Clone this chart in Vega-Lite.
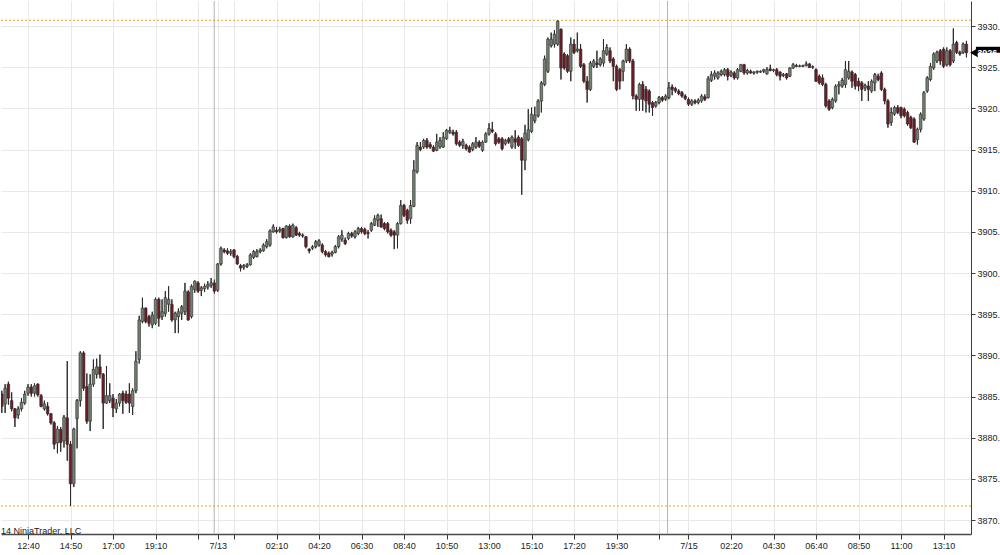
{
  "$schema": "https://vega.github.io/schema/vega-lite/v6.json",
  "width": 970,
  "height": 533,
  "padding": 0,
  "autosize": {"type": "pad"},
  "background": "#ffffff",
  "config": {"view": {"stroke": null}, "font": "Liberation Sans"},
  "resolve": {"axis": {"x": "independent", "y": "independent"}},
  "datasets": {
    "bars": [
{"i":0,"o":3885.3,"h":3885.7,"l":3883.0,"c":3883.8},
{"i":1,"o":3884.1,"h":3886.5,"l":3883.0,"c":3886.0},
{"i":2,"o":3886.5,"h":3886.8,"l":3884.0,"c":3884.8},
{"i":3,"o":3884.5,"h":3885.5,"l":3883.2,"c":3883.5},
{"i":4,"o":3883.5,"h":3883.6,"l":3881.3,"c":3882.4},
{"i":5,"o":3882.75,"h":3883.8,"l":3882.3,"c":3883.5},
{"i":6,"o":3883.5,"h":3884.8,"l":3883.2,"c":3884.3},
{"i":7,"o":3884.2,"h":3885.7,"l":3884.0,"c":3885.3},
{"i":8,"o":3885.4,"h":3886.5,"l":3885.1,"c":3886.15},
{"i":9,"o":3886.15,"h":3886.5,"l":3885.0,"c":3885.4},
{"i":10,"o":3885.4,"h":3886.6,"l":3885.0,"c":3886.3},
{"i":11,"o":3886.5,"h":3886.6,"l":3885.0,"c":3885.2},
{"i":12,"o":3885.1,"h":3885.3,"l":3883.7,"c":3883.8},
{"i":13,"o":3883.5,"h":3884.5,"l":3883.3,"c":3884.1},
{"i":14,"o":3883.8,"h":3884.3,"l":3882.7,"c":3882.9},
{"i":15,"o":3882.9,"h":3883.0,"l":3881.6,"c":3881.8},
{"i":16,"o":3881.8,"h":3882.0,"l":3878.6,"c":3879.2},
{"i":17,"o":3879.35,"h":3881.4,"l":3878.1,"c":3881.05},
{"i":18,"o":3881.0,"h":3881.3,"l":3878.3,"c":3879.4},
{"i":19,"o":3879.6,"h":3882.75,"l":3878.8,"c":3882.5},
{"i":20,"o":3882.4,"h":3889.3,"l":3877.2,"c":3879.2},
{"i":21,"o":3879.2,"h":3879.6,"l":3871.7,"c":3874.4},
{"i":22,"o":3874.4,"h":3881.2,"l":3874.0,"c":3881.05},
{"i":23,"o":3882.3,"h":3884.7,"l":3878.7,"c":3884.5},
{"i":24,"o":3884.5,"h":3890.5,"l":3883.8,"c":3890.3},
{"i":25,"o":3890.3,"h":3890.5,"l":3885.7,"c":3886.0},
{"i":26,"o":3886.2,"h":3887.8,"l":3881.7,"c":3882.0},
{"i":27,"o":3882.0,"h":3887.7,"l":3880.8,"c":3886.5},
{"i":28,"o":3886.5,"h":3889.5,"l":3886.2,"c":3888.3},
{"i":29,"o":3887.7,"h":3889.6,"l":3887.2,"c":3888.6},
{"i":30,"o":3888.6,"h":3890.1,"l":3887.2,"c":3887.7},
{"i":31,"o":3887.7,"h":3887.85,"l":3881.05,"c":3884.2},
{"i":32,"o":3884.2,"h":3888.7,"l":3884.1,"c":3885.1},
{"i":33,"o":3884.5,"h":3886.6,"l":3884.2,"c":3885.1},
{"i":34,"o":3884.8,"h":3885.3,"l":3882.5,"c":3883.6},
{"i":35,"o":3883.5,"h":3884.7,"l":3883.0,"c":3884.2},
{"i":36,"o":3884.2,"h":3885.4,"l":3883.8,"c":3885.3},
{"i":37,"o":3885.4,"h":3885.7,"l":3882.9,"c":3884.5},
{"i":38,"o":3885.3,"h":3885.7,"l":3884.1,"c":3884.3},
{"i":39,"o":3885.3,"h":3886.6,"l":3883.0,"c":3884.2},
{"i":40,"o":3883.8,"h":3886.0,"l":3882.75,"c":3885.7},
{"i":41,"o":3885.7,"h":3890.5,"l":3885.4,"c":3889.3},
{"i":42,"o":3889.5,"h":3894.8,"l":3889.0,"c":3894.3},
{"i":43,"o":3894.1,"h":3897.0,"l":3893.9,"c":3895.75},
{"i":44,"o":3895.75,"h":3895.8,"l":3893.9,"c":3894.1},
{"i":45,"o":3894.7,"h":3894.9,"l":3893.5,"c":3893.9},
{"i":46,"o":3893.7,"h":3895.3,"l":3893.3,"c":3894.9},
{"i":47,"o":3893.9,"h":3897.0,"l":3893.7,"c":3896.8},
{"i":48,"o":3896.8,"h":3897.0,"l":3893.5,"c":3894.5},
{"i":49,"o":3894.7,"h":3896.8,"l":3894.3,"c":3895.3},
{"i":50,"o":3895.1,"h":3897.8,"l":3894.7,"c":3897.0},
{"i":51,"o":3896.2,"h":3898.4,"l":3895.3,"c":3896.8},
{"i":52,"o":3896.2,"h":3896.8,"l":3894.1,"c":3894.3},
{"i":53,"o":3894.3,"h":3895.3,"l":3892.7,"c":3895.1},
{"i":54,"o":3894.7,"h":3895.7,"l":3892.7,"c":3895.3},
{"i":55,"o":3895.1,"h":3896.1,"l":3894.3,"c":3895.9},
{"i":56,"o":3895.3,"h":3898.8,"l":3894.9,"c":3897.8},
{"i":57,"o":3897.7,"h":3897.9,"l":3894.2,"c":3894.3},
{"i":58,"o":3894.7,"h":3898.6,"l":3894.5,"c":3898.4},
{"i":59,"o":3898.0,"h":3899.1,"l":3897.6,"c":3899.0},
{"i":60,"o":3898.8,"h":3899.0,"l":3897.6,"c":3897.8},
{"i":61,"o":3897.9,"h":3898.4,"l":3897.2,"c":3898.2},
{"i":62,"o":3898.1,"h":3898.7,"l":3897.7,"c":3898.4},
{"i":63,"o":3898.3,"h":3899.0,"l":3898.0,"c":3898.6},
{"i":64,"o":3898.5,"h":3899.4,"l":3898.2,"c":3898.8},
{"i":65,"o":3898.8,"h":3899.2,"l":3897.5,"c":3897.8},
{"i":66,"o":3897.9,"h":3901.2,"l":3897.7,"c":3901.1},
{"i":67,"o":3901.1,"h":3903.2,"l":3900.9,"c":3903.0},
{"i":68,"o":3902.8,"h":3903.0,"l":3902.4,"c":3902.6},
{"i":69,"o":3902.7,"h":3903.0,"l":3902.2,"c":3902.4},
{"i":70,"o":3902.4,"h":3902.9,"l":3902.1,"c":3902.6},
{"i":71,"o":3902.8,"h":3902.9,"l":3901.8,"c":3902.0},
{"i":72,"o":3902.0,"h":3902.2,"l":3901.0,"c":3901.1},
{"i":73,"o":3900.9,"h":3901.1,"l":3900.2,"c":3900.6},
{"i":74,"o":3900.7,"h":3901.1,"l":3900.4,"c":3900.9},
{"i":75,"o":3900.8,"h":3901.2,"l":3900.6,"c":3901.0},
{"i":76,"o":3901.0,"h":3902.4,"l":3900.9,"c":3902.2},
{"i":77,"o":3901.9,"h":3902.8,"l":3901.7,"c":3902.6},
{"i":78,"o":3902.0,"h":3902.9,"l":3901.9,"c":3902.6},
{"i":79,"o":3902.6,"h":3903.0,"l":3902.4,"c":3902.8},
{"i":80,"o":3902.7,"h":3903.6,"l":3902.6,"c":3903.4},
{"i":81,"o":3903.2,"h":3904.1,"l":3903.0,"c":3903.8},
{"i":82,"o":3903.4,"h":3905.3,"l":3903.2,"c":3905.1},
{"i":83,"o":3905.0,"h":3905.9,"l":3904.9,"c":3905.6},
{"i":84,"o":3905.2,"h":3905.6,"l":3904.8,"c":3905.0},
{"i":85,"o":3905.1,"h":3905.6,"l":3904.9,"c":3905.3},
{"i":86,"o":3905.4,"h":3905.5,"l":3904.2,"c":3904.3},
{"i":87,"o":3904.3,"h":3905.8,"l":3904.2,"c":3905.7},
{"i":88,"o":3905.7,"h":3905.9,"l":3904.3,"c":3904.4},
{"i":89,"o":3904.4,"h":3906.0,"l":3904.3,"c":3905.8},
{"i":90,"o":3905.5,"h":3905.7,"l":3904.5,"c":3904.6},
{"i":91,"o":3904.8,"h":3905.0,"l":3904.4,"c":3904.6},
{"i":92,"o":3904.6,"h":3904.8,"l":3904.3,"c":3904.5},
{"i":93,"o":3904.4,"h":3904.5,"l":3903.0,"c":3903.2},
{"i":94,"o":3902.9,"h":3903.0,"l":3902.4,"c":3902.7},
{"i":95,"o":3903.0,"h":3903.4,"l":3902.8,"c":3903.2},
{"i":96,"o":3903.2,"h":3904.0,"l":3903.0,"c":3903.8},
{"i":97,"o":3903.4,"h":3904.1,"l":3903.2,"c":3903.9},
{"i":98,"o":3903.4,"h":3903.6,"l":3902.4,"c":3902.6},
{"i":99,"o":3902.6,"h":3902.8,"l":3902.0,"c":3902.2},
{"i":100,"o":3902.4,"h":3902.6,"l":3901.9,"c":3902.0},
{"i":101,"o":3902.3,"h":3902.7,"l":3902.0,"c":3902.5},
{"i":102,"o":3902.5,"h":3903.4,"l":3902.4,"c":3903.2},
{"i":103,"o":3903.2,"h":3904.6,"l":3903.0,"c":3904.4},
{"i":104,"o":3904.1,"h":3905.2,"l":3903.8,"c":3904.6},
{"i":105,"o":3904.0,"h":3904.3,"l":3903.4,"c":3903.6},
{"i":106,"o":3904.2,"h":3905.0,"l":3904.0,"c":3904.8},
{"i":107,"o":3904.8,"h":3905.0,"l":3904.3,"c":3904.5},
{"i":108,"o":3904.4,"h":3905.2,"l":3904.2,"c":3905.0},
{"i":109,"o":3904.8,"h":3905.6,"l":3904.6,"c":3905.4},
{"i":110,"o":3905.4,"h":3905.6,"l":3904.8,"c":3905.0},
{"i":111,"o":3905.3,"h":3905.5,"l":3904.6,"c":3904.8},
{"i":112,"o":3904.9,"h":3905.2,"l":3904.2,"c":3904.8},
{"i":113,"o":3905.2,"h":3906.2,"l":3905.0,"c":3906.0},
{"i":114,"o":3905.8,"h":3907.0,"l":3905.7,"c":3906.6},
{"i":115,"o":3906.4,"h":3907.2,"l":3905.6,"c":3907.0},
{"i":116,"o":3906.6,"h":3907.1,"l":3905.5,"c":3905.6},
{"i":117,"o":3906.0,"h":3906.2,"l":3905.2,"c":3905.4},
{"i":118,"o":3906.0,"h":3906.2,"l":3904.8,"c":3905.0},
{"i":119,"o":3905.2,"h":3905.4,"l":3904.4,"c":3904.6},
{"i":120,"o":3905.0,"h":3905.2,"l":3902.9,"c":3904.6},
{"i":121,"o":3904.6,"h":3906.2,"l":3903.0,"c":3906.0},
{"i":122,"o":3906.0,"h":3908.85,"l":3905.9,"c":3908.2},
{"i":123,"o":3908.2,"h":3908.4,"l":3906.8,"c":3907.0},
{"i":124,"o":3907.6,"h":3907.8,"l":3906.0,"c":3906.4},
{"i":125,"o":3906.6,"h":3908.85,"l":3906.0,"c":3908.2},
{"i":126,"o":3908.1,"h":3913.7,"l":3908.0,"c":3912.5},
{"i":127,"o":3912.3,"h":3915.9,"l":3912.1,"c":3915.5},
{"i":128,"o":3915.3,"h":3915.9,"l":3914.8,"c":3915.0},
{"i":129,"o":3915.3,"h":3916.3,"l":3915.1,"c":3916.1},
{"i":130,"o":3916.1,"h":3916.4,"l":3915.1,"c":3915.3},
{"i":131,"o":3915.6,"h":3915.9,"l":3915.1,"c":3915.3},
{"i":132,"o":3915.3,"h":3915.5,"l":3914.7,"c":3914.8},
{"i":133,"o":3914.9,"h":3916.9,"l":3914.8,"c":3915.9},
{"i":134,"o":3915.3,"h":3916.5,"l":3915.1,"c":3916.1},
{"i":135,"o":3915.3,"h":3917.1,"l":3915.2,"c":3916.5},
{"i":136,"o":3916.3,"h":3917.5,"l":3916.2,"c":3917.35},
{"i":137,"o":3917.1,"h":3917.75,"l":3916.9,"c":3917.3},
{"i":138,"o":3917.1,"h":3917.4,"l":3916.7,"c":3916.9},
{"i":139,"o":3917.1,"h":3917.35,"l":3915.5,"c":3915.7},
{"i":140,"o":3915.9,"h":3916.1,"l":3915.3,"c":3915.5},
{"i":141,"o":3915.5,"h":3916.3,"l":3915.1,"c":3916.0},
{"i":142,"o":3915.5,"h":3915.7,"l":3914.9,"c":3915.1},
{"i":143,"o":3915.3,"h":3915.5,"l":3914.6,"c":3914.7},
{"i":144,"o":3915.0,"h":3915.9,"l":3914.8,"c":3915.7},
{"i":145,"o":3915.3,"h":3916.5,"l":3915.1,"c":3915.9},
{"i":146,"o":3915.9,"h":3916.1,"l":3915.2,"c":3915.4},
{"i":147,"o":3914.9,"h":3916.1,"l":3914.7,"c":3915.9},
{"i":148,"o":3915.9,"h":3917.1,"l":3915.8,"c":3916.9},
{"i":149,"o":3916.9,"h":3918.2,"l":3916.7,"c":3917.55},
{"i":150,"o":3917.4,"h":3918.35,"l":3917.0,"c":3917.2},
{"i":151,"o":3916.9,"h":3917.1,"l":3915.5,"c":3915.7},
{"i":152,"o":3916.3,"h":3916.5,"l":3915.7,"c":3915.9},
{"i":153,"o":3916.3,"h":3916.5,"l":3914.9,"c":3915.1},
{"i":154,"o":3915.7,"h":3916.3,"l":3915.5,"c":3916.1},
{"i":155,"o":3916.3,"h":3916.5,"l":3915.7,"c":3915.9},
{"i":156,"o":3915.3,"h":3916.7,"l":3915.1,"c":3916.5},
{"i":157,"o":3916.3,"h":3917.35,"l":3915.1,"c":3915.9},
{"i":158,"o":3916.5,"h":3916.7,"l":3915.3,"c":3915.5},
{"i":159,"o":3916.3,"h":3916.5,"l":3909.5,"c":3913.7},
{"i":160,"o":3913.7,"h":3918.0,"l":3912.5,"c":3917.0},
{"i":161,"o":3916.2,"h":3919.9,"l":3916.0,"c":3917.4},
{"i":162,"o":3917.2,"h":3920.1,"l":3917.0,"c":3919.3},
{"i":163,"o":3918.5,"h":3920.2,"l":3918.2,"c":3919.2},
{"i":164,"o":3919.1,"h":3921.1,"l":3918.9,"c":3920.9},
{"i":165,"o":3920.9,"h":3923.3,"l":3919.5,"c":3923.1},
{"i":166,"o":3922.9,"h":3926.4,"l":3922.7,"c":3926.0},
{"i":167,"o":3924.5,"h":3928.6,"l":3924.3,"c":3928.4},
{"i":168,"o":3927.6,"h":3929.2,"l":3927.4,"c":3928.4},
{"i":169,"o":3927.8,"h":3929.5,"l":3927.4,"c":3929.0},
{"i":170,"o":3927.8,"h":3930.7,"l":3927.6,"c":3930.6},
{"i":171,"o":3929.6,"h":3929.7,"l":3923.5,"c":3924.9},
{"i":172,"o":3926.6,"h":3926.8,"l":3924.7,"c":3924.9},
{"i":173,"o":3926.4,"h":3926.6,"l":3924.3,"c":3924.5},
{"i":174,"o":3924.5,"h":3928.6,"l":3923.3,"c":3927.8},
{"i":175,"o":3927.8,"h":3928.4,"l":3926.6,"c":3926.8},
{"i":176,"o":3927.0,"h":3929.2,"l":3926.8,"c":3927.2},
{"i":177,"o":3927.2,"h":3927.8,"l":3924.9,"c":3925.1},
{"i":178,"o":3925.3,"h":3925.5,"l":3923.1,"c":3923.3},
{"i":179,"o":3923.3,"h":3923.9,"l":3920.7,"c":3922.3},
{"i":180,"o":3922.3,"h":3925.75,"l":3922.1,"c":3925.5},
{"i":181,"o":3925.1,"h":3926.0,"l":3924.9,"c":3925.75},
{"i":182,"o":3925.5,"h":3927.0,"l":3924.9,"c":3925.3},
{"i":183,"o":3925.3,"h":3926.2,"l":3925.1,"c":3926.0},
{"i":184,"o":3925.5,"h":3928.4,"l":3925.1,"c":3927.0},
{"i":185,"o":3926.6,"h":3927.8,"l":3926.4,"c":3927.4},
{"i":186,"o":3927.0,"h":3927.4,"l":3925.5,"c":3925.75},
{"i":187,"o":3926.0,"h":3926.2,"l":3923.3,"c":3925.1},
{"i":188,"o":3925.1,"h":3925.3,"l":3922.1,"c":3922.3},
{"i":189,"o":3924.7,"h":3924.9,"l":3922.3,"c":3923.3},
{"i":190,"o":3924.5,"h":3925.9,"l":3923.3,"c":3925.75},
{"i":191,"o":3925.75,"h":3927.8,"l":3925.5,"c":3927.2},
{"i":192,"o":3927.2,"h":3927.4,"l":3925.5,"c":3925.75},
{"i":193,"o":3925.75,"h":3926.0,"l":3921.1,"c":3921.5},
{"i":194,"o":3921.5,"h":3921.7,"l":3919.7,"c":3921.1},
{"i":195,"o":3921.1,"h":3923.1,"l":3919.7,"c":3922.9},
{"i":196,"o":3922.9,"h":3923.3,"l":3919.7,"c":3921.1},
{"i":197,"o":3922.3,"h":3922.7,"l":3919.5,"c":3920.9},
{"i":198,"o":3922.1,"h":3922.3,"l":3919.5,"c":3920.5},
{"i":199,"o":3920.7,"h":3920.9,"l":3919.1,"c":3920.1},
{"i":200,"o":3920.3,"h":3920.9,"l":3920.1,"c":3920.7},
{"i":201,"o":3920.7,"h":3921.5,"l":3920.5,"c":3921.3},
{"i":202,"o":3921.3,"h":3921.5,"l":3920.8,"c":3921.0},
{"i":203,"o":3921.1,"h":3921.7,"l":3920.9,"c":3921.5},
{"i":204,"o":3921.3,"h":3923.2,"l":3921.1,"c":3922.5},
{"i":205,"o":3922.6,"h":3922.9,"l":3921.6,"c":3922.3},
{"i":206,"o":3922.4,"h":3922.6,"l":3921.9,"c":3922.1},
{"i":207,"o":3922.1,"h":3922.3,"l":3921.6,"c":3921.8},
{"i":208,"o":3921.9,"h":3922.1,"l":3921.3,"c":3921.5},
{"i":209,"o":3921.5,"h":3921.7,"l":3921.0,"c":3921.2},
{"i":210,"o":3921.1,"h":3921.3,"l":3920.3,"c":3920.5},
{"i":211,"o":3920.5,"h":3921.1,"l":3920.3,"c":3920.9},
{"i":212,"o":3920.9,"h":3921.1,"l":3920.5,"c":3920.7},
{"i":213,"o":3920.7,"h":3921.2,"l":3920.5,"c":3921.0},
{"i":214,"o":3920.9,"h":3921.7,"l":3920.7,"c":3921.5},
{"i":215,"o":3921.4,"h":3921.7,"l":3920.9,"c":3921.1},
{"i":216,"o":3921.3,"h":3923.9,"l":3921.2,"c":3923.6},
{"i":217,"o":3923.4,"h":3924.5,"l":3923.2,"c":3924.1},
{"i":218,"o":3923.9,"h":3924.6,"l":3923.5,"c":3924.3},
{"i":219,"o":3923.7,"h":3924.5,"l":3923.5,"c":3924.3},
{"i":220,"o":3924.1,"h":3924.7,"l":3923.9,"c":3924.5},
{"i":221,"o":3924.1,"h":3924.9,"l":3923.9,"c":3924.7},
{"i":222,"o":3924.7,"h":3924.9,"l":3923.4,"c":3923.9},
{"i":223,"o":3924.0,"h":3924.6,"l":3923.8,"c":3924.4},
{"i":224,"o":3924.3,"h":3924.5,"l":3923.5,"c":3923.7},
{"i":225,"o":3923.7,"h":3924.9,"l":3923.5,"c":3924.7},
{"i":226,"o":3924.5,"h":3925.4,"l":3924.4,"c":3925.3},
{"i":227,"o":3925.3,"h":3925.4,"l":3924.1,"c":3924.3},
{"i":228,"o":3924.3,"h":3924.8,"l":3924.1,"c":3924.6},
{"i":229,"o":3924.5,"h":3924.7,"l":3924.2,"c":3924.3},
{"i":230,"o":3924.3,"h":3924.5,"l":3924.1,"c":3924.4},
{"i":231,"o":3924.4,"h":3924.6,"l":3924.2,"c":3924.5},
{"i":232,"o":3924.4,"h":3924.6,"l":3924.3,"c":3924.5},
{"i":233,"o":3924.5,"h":3924.8,"l":3924.3,"c":3924.7},
{"i":234,"o":3924.2,"h":3925.0,"l":3924.1,"c":3924.7},
{"i":235,"o":3924.8,"h":3925.3,"l":3924.5,"c":3924.6},
{"i":236,"o":3924.6,"h":3924.8,"l":3924.4,"c":3924.7},
{"i":237,"o":3924.7,"h":3924.9,"l":3923.9,"c":3924.1},
{"i":238,"o":3924.4,"h":3924.5,"l":3923.4,"c":3923.9},
{"i":239,"o":3924.0,"h":3924.3,"l":3923.8,"c":3924.1},
{"i":240,"o":3924.2,"h":3924.3,"l":3923.5,"c":3923.7},
{"i":241,"o":3923.9,"h":3925.0,"l":3923.8,"c":3924.9},
{"i":242,"o":3924.9,"h":3925.5,"l":3924.8,"c":3925.3},
{"i":243,"o":3925.2,"h":3925.4,"l":3925.0,"c":3925.1},
{"i":244,"o":3925.1,"h":3925.3,"l":3925.0,"c":3925.15},
{"i":245,"o":3925.1,"h":3925.3,"l":3925.0,"c":3925.2},
{"i":246,"o":3925.2,"h":3925.7,"l":3925.1,"c":3925.4},
{"i":247,"o":3925.4,"h":3925.5,"l":3924.9,"c":3924.95},
{"i":248,"o":3925.0,"h":3925.2,"l":3924.8,"c":3925.05},
{"i":249,"o":3924.7,"h":3924.85,"l":3923.2,"c":3923.3},
{"i":250,"o":3923.9,"h":3924.1,"l":3922.9,"c":3923.1},
{"i":251,"o":3923.7,"h":3924.1,"l":3922.7,"c":3922.9},
{"i":252,"o":3922.9,"h":3923.1,"l":3920.1,"c":3920.3},
{"i":253,"o":3920.9,"h":3921.1,"l":3919.7,"c":3919.9},
{"i":254,"o":3920.1,"h":3921.3,"l":3919.9,"c":3921.1},
{"i":255,"o":3920.9,"h":3922.9,"l":3920.7,"c":3922.7},
{"i":256,"o":3922.7,"h":3923.3,"l":3921.7,"c":3922.9},
{"i":257,"o":3922.7,"h":3923.7,"l":3922.5,"c":3923.4},
{"i":258,"o":3922.9,"h":3925.75,"l":3922.5,"c":3924.7},
{"i":259,"o":3923.7,"h":3925.75,"l":3923.5,"c":3924.5},
{"i":260,"o":3924.4,"h":3924.6,"l":3922.5,"c":3923.3},
{"i":261,"o":3924.1,"h":3924.3,"l":3922.3,"c":3922.7},
{"i":262,"o":3923.3,"h":3923.7,"l":3922.1,"c":3922.7},
{"i":263,"o":3923.1,"h":3923.3,"l":3920.9,"c":3922.3},
{"i":264,"o":3922.5,"h":3923.0,"l":3922.1,"c":3922.8},
{"i":265,"o":3922.7,"h":3923.3,"l":3920.9,"c":3922.3},
{"i":266,"o":3922.1,"h":3923.5,"l":3921.9,"c":3923.3},
{"i":267,"o":3923.1,"h":3924.3,"l":3922.1,"c":3924.1},
{"i":268,"o":3923.9,"h":3924.2,"l":3923.3,"c":3923.5},
{"i":269,"o":3924.3,"h":3924.5,"l":3922.1,"c":3922.3},
{"i":270,"o":3922.3,"h":3922.5,"l":3920.5,"c":3920.9},
{"i":271,"o":3920.9,"h":3921.1,"l":3917.65,"c":3918.1},
{"i":272,"o":3918.3,"h":3920.1,"l":3917.9,"c":3919.5},
{"i":273,"o":3919.3,"h":3920.3,"l":3919.1,"c":3920.1},
{"i":274,"o":3920.1,"h":3920.4,"l":3919.3,"c":3919.5},
{"i":275,"o":3920.1,"h":3920.2,"l":3918.8,"c":3919.1},
{"i":276,"o":3919.9,"h":3920.1,"l":3918.9,"c":3919.1},
{"i":277,"o":3919.5,"h":3919.7,"l":3917.9,"c":3918.1},
{"i":278,"o":3918.9,"h":3919.1,"l":3917.5,"c":3917.65},
{"i":279,"o":3918.7,"h":3918.9,"l":3915.8,"c":3915.9},
{"i":280,"o":3916.2,"h":3917.65,"l":3915.6,"c":3917.45},
{"i":281,"o":3917.45,"h":3919.5,"l":3917.1,"c":3919.3},
{"i":282,"o":3918.7,"h":3922.1,"l":3918.5,"c":3921.9},
{"i":283,"o":3922.1,"h":3923.9,"l":3921.9,"c":3923.7},
{"i":284,"o":3923.5,"h":3925.5,"l":3923.3,"c":3925.1},
{"i":285,"o":3924.9,"h":3926.8,"l":3924.7,"c":3926.6},
{"i":286,"o":3925.75,"h":3927.0,"l":3925.5,"c":3926.8},
{"i":287,"o":3927.0,"h":3927.2,"l":3925.3,"c":3925.75},
{"i":288,"o":3927.2,"h":3927.4,"l":3924.9,"c":3925.1},
{"i":289,"o":3925.3,"h":3927.4,"l":3925.1,"c":3927.0},
{"i":290,"o":3927.0,"h":3927.2,"l":3925.1,"c":3925.3},
{"i":291,"o":3925.75,"h":3929.7,"l":3925.5,"c":3927.8},
{"i":292,"o":3928.0,"h":3928.2,"l":3926.6,"c":3926.8},
{"i":293,"o":3926.8,"h":3927.0,"l":3926.4,"c":3926.6},
{"i":294,"o":3926.8,"h":3928.0,"l":3926.6,"c":3927.8},
{"i":295,"o":3927.8,"h":3928.2,"l":3926.2,"c":3926.75}
    ],
    "sessions": [{"i": 64.95}, {"i": 203.6}],
    "levels": [{"p": 3930.7}, {"p": 3871.7}],
    "credit": [{"i": -5.35, "p": 3868.72, "t": "©2014 NinjaTrader, LLC"}],
    "last": [{"p": 3926.75, "t": "3926.75"}]
  },
  "layer": [
    {
      "data": {"name": "bars"},
      "mark": {"type": "rule", "color": "#2a2a2a", "strokeWidth": 1, "clip": true},
      "encoding": {
        "x": {
          "field": "i", "type": "quantitative",
          "scale": {"domain": [-0.26, 296.4], "nice": false, "zero": false, "padding": 0},
          "axis": {
            "orient": "bottom", "title": null,
            "values": [8,21,34,47,60,66,71,84,97,110,123,136,149,162,175,188,201,210,223,236,249,262,275,288],
            "labelExpr": "['12:40','14:50','17:00','19:10','','7/13','','02:10','04:20','06:30','08:40','10:50','13:00','15:10','17:20','19:30','','7/15','02:20','04:30','06:40','08:50','11:00','13:10'][indexof([8,21,34,47,60,66,71,84,97,110,123,136,149,162,175,188,201,210,223,236,249,262,275,288], datum.value)]",
            "grid": true, "gridColor": "#e8e8e8", "gridWidth": 1,
            "domainColor": "#4a4a4a", "domainWidth": 1.5,
            "tickColor": "#333333", "tickSize": 5, "tickWidth": 1,
            "labelFont": "Liberation Sans", "labelFontSize": 9, "labelColor": "#222222",
            "labelPadding": 2, "labelOverlap": false, "labelFlush": false
          }
        },
        "y": {
          "field": "l", "type": "quantitative",
          "scale": {"domain": [3868.3, 3933.04], "nice": false, "zero": false, "padding": 0},
          "axis": {
            "orient": "right", "title": null,
            "values": [3870,3875,3880,3885,3890,3895,3900,3905,3910,3915,3920,3925,3930],
            "format": ".1f",
            "grid": true, "gridColor": "#e8e8e8", "gridWidth": 1,
            "domainColor": "#3c3c3c", "domainWidth": 1,
            "tickColor": "#3c3c3c", "tickSize": 4,
            "labelFont": "Liberation Sans", "labelFontSize": 9, "labelColor": "#222222",
            "labelPadding": 2, "labelOverlap": false, "labelFlush": false
          }
        },
        "y2": {"field": "h"}
      }
    },
    {
      "data": {"name": "sessions"},
      "mark": {"type": "rule", "color": "#b4b4b4", "strokeWidth": 1},
      "encoding": {
        "x": {"field": "i", "type": "quantitative", "scale": {"domain": [-0.26, 296.4], "nice": false, "zero": false, "padding": 0}, "axis": null}
      }
    },
    {
      "data": {"name": "levels"},
      "mark": {"type": "rule", "color": "#e0a52a", "strokeWidth": 1, "strokeDash": [2, 2]},
      "encoding": {
        "y": {"field": "p", "type": "quantitative", "scale": {"domain": [3868.3, 3933.04], "nice": false, "zero": false, "padding": 0}, "axis": null}
      }
    },
    {
      "data": {"name": "bars"},
      "mark": {"type": "rule", "color": "#2a2a2a", "strokeWidth": 1, "clip": true},
      "encoding": {
        "x": {"field": "i", "type": "quantitative", "scale": {"domain": [-0.26, 296.4], "nice": false, "zero": false, "padding": 0}, "axis": null},
        "y": {"field": "l", "type": "quantitative", "scale": {"domain": [3868.3, 3933.04], "nice": false, "zero": false, "padding": 0}, "axis": null},
        "y2": {"field": "h"}
      }
    },
    {
      "data": {"name": "bars"},
      "mark": {"type": "bar", "width": 2.6, "stroke": "#2a2a2a", "strokeWidth": 0.6, "clip": true},
      "encoding": {
        "x": {"field": "i", "type": "quantitative", "scale": {"domain": [-0.26, 296.4], "nice": false, "zero": false, "padding": 0}, "axis": null},
        "y": {"field": "o", "type": "quantitative", "scale": {"domain": [3868.3, 3933.04], "nice": false, "zero": false, "padding": 0}, "axis": null},
        "y2": {"field": "c"},
        "fill": {"condition": {"test": "datum.c < datum.o", "value": "#6d1b26"}, "value": "#728172"}
      }
    },
    {
      "data": {"name": "credit"},
      "mark": {"type": "text", "align": "left", "baseline": "middle", "font": "Liberation Sans", "fontSize": 9, "color": "#222222", "clip": true},
      "encoding": {
        "x": {"field": "i", "type": "quantitative", "scale": {"domain": [-0.26, 296.4], "nice": false, "zero": false, "padding": 0}, "axis": null},
        "y": {"field": "p", "type": "quantitative", "scale": {"domain": [3868.3, 3933.04], "nice": false, "zero": false, "padding": 0}, "axis": null},
        "text": {"field": "t"}
      }
    },
    {
      "data": {"name": "last"},
      "mark": {"type": "rect", "color": "#000000"},
      "encoding": {
        "x": {"datum": 297.9, "type": "quantitative", "scale": {"domain": [-0.26, 296.4], "nice": false, "zero": false, "padding": 0}, "axis": null},
        "x2": {"datum": 306.5},
        "y": {"field": "p", "type": "quantitative", "scale": {"domain": [3868.3, 3933.04], "nice": false, "zero": false, "padding": 0}, "axis": null},
        "y2": {"field": "p"},
        "yOffset": {"value": -6},
        "y2Offset": {"value": 6}
      }
    },
    {
      "data": {"name": "last"},
      "mark": {"type": "point", "shape": "triangle-left", "filled": true, "color": "#000000", "size": 80, "opacity": 1},
      "encoding": {
        "x": {"datum": 297.3, "type": "quantitative", "scale": {"domain": [-0.26, 296.4], "nice": false, "zero": false, "padding": 0}, "axis": null},
        "y": {"field": "p", "type": "quantitative", "scale": {"domain": [3868.3, 3933.04], "nice": false, "zero": false, "padding": 0}, "axis": null}
      }
    },
    {
      "data": {"name": "last"},
      "mark": {"type": "text", "align": "left", "baseline": "middle", "font": "Liberation Sans", "fontSize": 9, "fontWeight": "bold", "color": "#ffffff"},
      "encoding": {
        "x": {"datum": 298.3, "type": "quantitative", "scale": {"domain": [-0.26, 296.4], "nice": false, "zero": false, "padding": 0}, "axis": null},
        "y": {"field": "p", "type": "quantitative", "scale": {"domain": [3868.3, 3933.04], "nice": false, "zero": false, "padding": 0}, "axis": null},
        "text": {"field": "t"}
      }
    }
  ]
}
